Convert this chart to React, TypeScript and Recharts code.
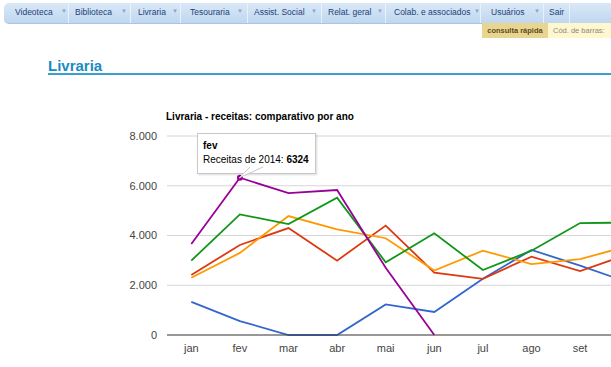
import { CartesianGrid, Line, LineChart, Tooltip, XAxis, YAxis } from 'recharts';

const months = ['jan', 'fev', 'mar', 'abr', 'mai', 'jun', 'jul', 'ago', 'set', 'out'];
const rec2010 = [1330, 560, 0, 0, 1230, 925, 2260, 3420, 2790, 2110];
const rec2011 = [2410, 3620, 4300, 2990, 4400, 2510, 2260, 3150, 2570, 3250];
const rec2012 = [2300, 3300, 4780, 4250, 3890, 2590, 3390, 2850, 3050, 3580];
const rec2013 = [2990, 4850, 4460, 5520, 2920, 4090, 2610, 3390, 4500, 4520];
const rec2014 = [3660, 6324, 5700, 5830, 2700, 0, null, null, null, null];
const yTicks = [0, 2000, 4000, 6000, 8000];

const navItems = [
  { label: 'Videoteca', x: 15, arrow: 61 },
  { label: 'Biblioteca', x: 75, arrow: 121 },
  { label: 'Livraria', x: 138, arrow: 172 },
  { label: 'Tesouraria', x: 190, arrow: 237 },
  { label: 'Assist. Social', x: 254, arrow: 311 },
  { label: 'Relat. geral', x: 328, arrow: 377 },
  { label: 'Colab. e associados', x: 394, arrow: 474 },
  { label: 'Usuários', x: 491, arrow: 534 },
  { label: 'Sair', x: 549, arrow: null }
];
const navSeparators = [68, 130, 180, 247, 321, 385, 480, 543, 569];

const data = months.map((m, i) => ({
  mes: m,
  r2010: rec2010[i],
  r2011: rec2011[i],
  r2012: rec2012[i],
  r2013: rec2013[i],
  r2014: rec2014[i]
}));

const font = '"Liberation Sans", Arial, sans-serif';

const fmt = (v: number) => (v === 0 ? '0' : `${v / 1000}.000`);

// months past the window edge are left out (the page cuts the chart there)
function MonthTick({ x, y, payload }: any) {
  if (x > 600) return <g />;
  return (
    <text x={x} y={y} dy="0.71em" textAnchor="middle" fill="#444" fontSize={11} fontFamily={font}>
      {payload.value}
    </text>
  );
}

function TipBox({ payload, label }: any) {
  const item = (payload || []).find((p: any) => p.dataKey === 'r2014');
  if (!item) return null;
  return (
    <div style={{ position: 'relative' }}>
      <div
        style={{
          background: '#fff',
          border: '1px solid #c8c8c8',
          boxShadow: '1px 1px 2px rgba(0,0,0,0.15)',
          padding: '5px 6px 6px 5px',
          fontFamily: font,
          fontSize: 10,
          color: '#000',
          lineHeight: '14px',
          whiteSpace: 'nowrap'
        }}
      >
        <div style={{ fontWeight: 'bold' }}>{label}</div>
        <div>
          Receitas de 2014: <b>{item.value}</b>
        </div>
      </div>
      <svg
        width={40}
        height={14}
        style={{ position: 'absolute', left: 40, top: 33, overflow: 'visible' }}
      >
        <polygon points="13,0 26,0 2,12" fill="#fff" />
        <polyline points="13,1 2,12 26,1" fill="none" stroke="#c8c8c8" />
      </svg>
    </div>
  );
}

function purpleDot(props: any) {
  const { cx, cy, index } = props;
  if (index !== 1) return <g key={index} />;
  return <circle key={index} cx={cx} cy={cy} r={3} fill="#990099" />;
}

export default function App() {
  return (
    <div
      style={{
        position: 'fixed',
        left: 0,
        top: 0,
        width: 611,
        height: 367,
        overflow: 'hidden',
        background: '#fff',
        fontFamily: font
      }}
    >
      <div
        style={{
          position: 'absolute',
          left: 4,
          top: 3,
          width: 620,
          height: 20,
          borderRadius: '5px 0 0 5px',
          background: 'linear-gradient(#d9e8f7, #bfd7ef)',
          borderBottom: '1px solid #a9c6e4'
        }}
      />
      {navSeparators.map((x) => (
        <div
          key={x}
          style={{ position: 'absolute', left: x, top: 3, width: 1, height: 20, background: '#e9f2fb' }}
        />
      ))}
      {navItems.map((n) => (
        <div key={n.label}>
          <div
            style={{
              position: 'absolute',
              left: n.x,
              top: 7,
              fontSize: 8.5,
              color: '#1d3f78',
              whiteSpace: 'nowrap'
            }}
          >
            {n.label}
          </div>
          {n.arrow !== null && (
            <div style={{ position: 'absolute', left: n.arrow, top: 8, fontSize: 6, color: '#8aa5c6' }}>▼</div>
          )}
        </div>
      ))}
      <div
        style={{
          position: 'absolute',
          left: 482,
          top: 23,
          width: 66,
          height: 15,
          background: '#e8d690',
          fontSize: 7.5,
          fontWeight: 'bold',
          color: '#5c4b1c',
          lineHeight: '15px',
          textAlign: 'center'
        }}
      >
        consulta rápida
      </div>
      <div
        style={{
          position: 'absolute',
          left: 548,
          top: 23,
          width: 58,
          height: 15,
          background: '#fff7cf',
          fontSize: 7.5,
          color: '#8a8a7a',
          lineHeight: '15px',
          paddingLeft: 5,
          whiteSpace: 'nowrap'
        }}
      >
        Cód. de barras:
      </div>
      <div
        style={{
          position: 'absolute',
          left: 48,
          top: 57,
          fontSize: 15,
          fontWeight: 'bold',
          color: '#1b8bbf'
        }}
      >
        Livraria
      </div>
      <div style={{ position: 'absolute', left: 48, top: 73, width: 570, height: 2, background: '#3a9fcb' }} />
      <div
        style={{
          position: 'absolute',
          left: 166,
          top: 111,
          fontSize: 10,
          fontWeight: 'bold',
          color: '#000',
          whiteSpace: 'nowrap'
        }}
      >
        Livraria - receitas: comparativo por ano
      </div>
      <div style={{ position: 'absolute', left: 0, top: 0 }}>
        <LineChart width={680} height={367} data={data} margin={{ top: 136, right: 27, bottom: 2, left: 0 }}>
          <CartesianGrid horizontal vertical={false} stroke="#d6d6d6" />
          <XAxis
            dataKey="mes"
            padding={{ left: 24.3, right: 24.3 }}
            tickLine={false}
            tickSize={0}
            tickMargin={9}
            height={30}
            axisLine={{ stroke: '#444' }}
            tick={<MonthTick />}
          />
          <YAxis
            width={167}
            domain={[0, 8000]}
            ticks={yTicks}
            tickFormatter={fmt}
            axisLine={false}
            tickLine={false}
            tickSize={0}
            tickMargin={10}
            tick={{ fill: '#444', fontSize: 11, fontFamily: font }}
          />
          <Tooltip
            active
            defaultIndex={1}
            cursor={false}
            position={{ x: 197, y: 133 }}
            isAnimationActive={false}
            content={<TipBox />}
            wrapperStyle={{ outline: 'none' }}
          />
          <Line dataKey="r2010" stroke="#3366cc" strokeWidth={1.8} dot={false} activeDot={false} isAnimationActive={false} />
          <Line dataKey="r2011" stroke="#dc3912" strokeWidth={1.8} dot={false} activeDot={false} isAnimationActive={false} />
          <Line dataKey="r2012" stroke="#ff9900" strokeWidth={1.8} dot={false} activeDot={false} isAnimationActive={false} />
          <Line dataKey="r2013" stroke="#109618" strokeWidth={1.8} dot={false} activeDot={false} isAnimationActive={false} />
          <Line dataKey="r2014" stroke="#990099" strokeWidth={1.8} dot={purpleDot} activeDot={false} isAnimationActive={false} />
        </LineChart>
      </div>
    </div>
  );
}
